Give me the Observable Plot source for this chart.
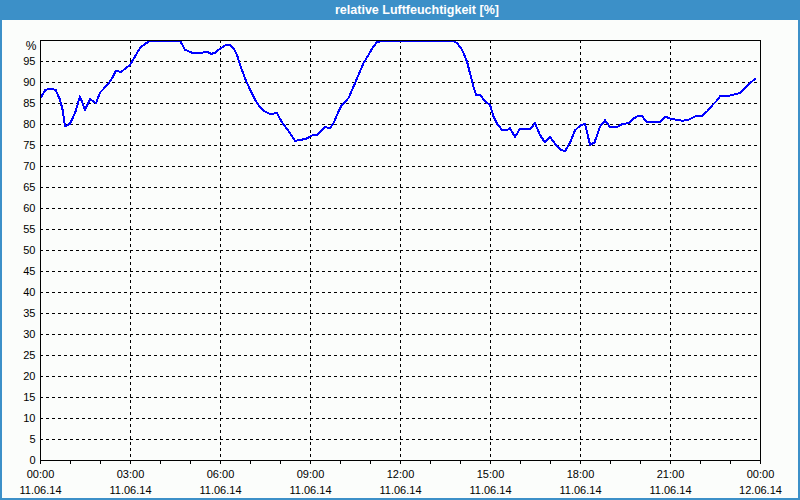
<!DOCTYPE html>
<html>
<head>
<meta charset="utf-8">
<script src="https://cdn.jsdelivr.net/npm/d3@7"></script>
<script src="https://cdn.jsdelivr.net/npm/@observablehq/plot@0.6"></script>
<style>
  html, body { margin: 0; padding: 0; background: #ffffff; }
  #wrap { position: relative; width: 800px; height: 500px; background: #fbfdfb; overflow: hidden; }
  #title { position: absolute; left: 0; top: 0; width: 800px; height: 20px; background: #3c90c8; }
  #title span { position: absolute; left: 335px; top: 3px; color: #ffffff; font: bold 12.5px "Liberation Sans", Arial, sans-serif; white-space: nowrap; }
  #border { position: absolute; left: 0; top: 0; width: 800px; height: 500px; box-sizing: border-box; border: 2px solid #3c90c8; pointer-events: none; }
  #chart { position: absolute; left: 0; top: 20px; }
</style>
</head>
<body>
<div id="wrap">
  <div id="title"><span id="titleText"></span></div>
  <div id="chart"></div>
  <div id="border"></div>
</div>
<script>
const chartTitle = "relative Luftfeuchtigkeit [%]";
const yUnit = "%";

// minutes after 11.06.14 00:00
const times = [0, 10, 22, 30, 39, 44, 49, 59, 69, 79, 89, 99, 111, 119, 136, 143, 151, 161, 179, 189, 199, 209, 221, 279, 289, 303, 323, 333, 341, 349, 361, 369, 379, 386, 393, 399, 409, 419, 429, 439, 449, 459, 473, 483, 496, 509, 519, 531, 543, 553, 563, 569, 579, 586, 596, 603, 616, 626, 636, 646, 656, 666, 673, 689, 823, 833, 843, 853, 859, 866, 871, 879, 889, 899, 906, 913, 923, 933, 939, 949, 959, 979, 989, 999, 1009, 1019, 1029, 1039, 1049, 1059, 1069, 1079, 1089, 1099, 1108, 1119, 1129, 1139, 1153, 1163, 1176, 1186, 1196, 1203, 1213, 1239, 1249, 1259, 1269, 1283, 1296, 1309, 1323, 1333, 1343, 1353, 1359, 1373, 1386, 1399, 1409, 1419, 1429];
const humidity = [86.3, 88.3, 88.4, 88.3, 85.9, 83.6, 79.5, 80.2, 82.7, 86.7, 83.5, 86.0, 85.1, 87.6, 89.7, 91.0, 92.8, 92.5, 94.2, 96.2, 98.2, 99.2, 100, 100, 97.8, 97.1, 97.1, 97.4, 96.8, 97.1, 98.2, 98.8, 98.9, 98.2, 96.6, 94.2, 91.0, 88.3, 85.9, 84.1, 83.1, 82.5, 82.7, 80.5, 78.5, 76.1, 76.3, 76.6, 77.4, 77.4, 78.7, 79.4, 79.1, 80.3, 83.1, 84.7, 86.3, 89.0, 91.8, 94.6, 96.6, 98.6, 99.6, 100, 100, 99.4, 97.8, 95.0, 92.2, 89.0, 87.1, 87.1, 85.5, 84.7, 81.9, 80.2, 78.7, 78.7, 79.1, 77.0, 79.0, 78.9, 80.3, 77.5, 75.7, 77.1, 75.4, 74.1, 73.6, 75.7, 78.6, 79.7, 80.2, 75.2, 75.7, 79.5, 81.0, 79.4, 79.4, 80.1, 80.3, 81.4, 82.1, 82.0, 80.5, 80.5, 81.9, 81.4, 81.2, 80.9, 81.1, 81.9, 82.1, 83.1, 84.5, 85.7, 86.7, 86.7, 87.1, 87.5, 88.6, 89.8, 90.9];

const majorHours = [0, 3, 6, 9, 12, 15, 18, 21, 24];
const gridHours = [3, 6, 9, 12, 15, 18, 21];
const minorHours = [0, 1, 2, 3, 4, 5, 6, 7, 8, 9, 10, 11, 12, 13, 14, 15, 16, 17, 18, 19, 20, 21, 22, 23, 24];
const yTicks = [0, 5, 10, 15, 20, 25, 30, 35, 40, 45, 50, 55, 60, 65, 70, 75, 80, 85, 90, 95];
const yGrid = [5, 10, 15, 20, 25, 30, 35, 40, 45, 50, 55, 60, 65, 70, 75, 80, 85, 90, 95];

const t0 = Date.UTC(2014, 5, 11);
const fromMinutes = m => new Date(t0 + m * 60000);
const fromHours = h => fromMinutes(h * 60);

const data = times.map((m, i) => ({t: fromMinutes(m), v: humidity[i]}));

document.getElementById("titleText").textContent = chartTitle;

const dash = {stroke: "black", strokeOpacity: 1, strokeWidth: 1, strokeDasharray: "3,3", shapeRendering: "crispEdges"};

const chart = Plot.plot({
  width: 800,
  height: 480,
  marginTop: 20,
  marginRight: 40,
  marginBottom: 40,
  marginLeft: 40,
  style: {background: "transparent", fontFamily: "Liberation Sans, Arial, sans-serif", fontSize: "11px", color: "black"},
  x: {type: "utc", domain: [fromHours(0), fromHours(24)]},
  y: {domain: [0, 100]},
  marks: [
    Plot.gridX(gridHours.map(fromHours), dash),
    Plot.gridY(yGrid, dash),
    Plot.line(data, {x: "t", y: "v", stroke: "#0000ff", strokeWidth: 2, shapeRendering: "crispEdges"}),
    Plot.frame({stroke: "black", shapeRendering: "crispEdges"}),
    Plot.axisX(minorHours.map(fromHours), {tickSize: 4, tickFormat: () => "", label: null, stroke: "black", shapeRendering: "crispEdges"}),
    Plot.axisX(majorHours.map(fromHours), {tickSize: 0, tickPadding: 10, tickFormat: d3.utcFormat("%H:%M"), label: null, fill: "black"}),
    Plot.axisX(majorHours.map(fromHours), {tickSize: 0, tickPadding: 26, tickFormat: d3.utcFormat("%d.%m.%y"), label: null, fill: "black"}),
    Plot.axisY(yTicks, {tickSize: 0, tickPadding: 5, label: null, fill: "black"}),
    Plot.text([yUnit], {frameAnchor: "top-left", dx: -4, dy: 6, lineAnchor: "middle", textAnchor: "end", fontSize: 12, text: d => d, fill: "black"})
  ]
});
document.getElementById("chart").appendChild(chart);
</script>
</body>
</html>
